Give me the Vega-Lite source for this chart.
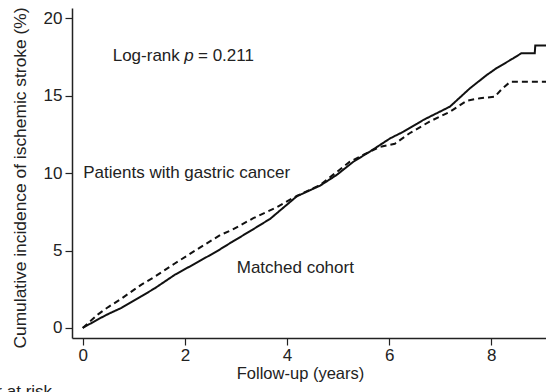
{
  "$schema": "https://vega.github.io/schema/vega-lite/v6.json",
  "width": 474,
  "height": 330,
  "autosize": {"type": "none"},
  "padding": {"left": 72, "top": 8, "right": 0, "bottom": 54},
  "background": "white",
  "config": {
    "view": {"stroke": null},
    "font": "Liberation Sans",
    "axis": {
      "grid": false,
      "domainColor": "#222222",
      "domainWidth": 1.5,
      "tickColor": "#222222",
      "tickWidth": 1.2,
      "tickSize": 7,
      "labelColor": "#222222",
      "labelFont": "Liberation Sans",
      "labelFontSize": 17,
      "titleColor": "#222222",
      "titleFont": "Liberation Sans",
      "titleFontWeight": "normal"
    }
  },
  "datasets": {
    "curves": [
      {"group": "Matched cohort", "t": 0, "inc": 0},
      {"group": "Matched cohort", "t": 0.3, "inc": 0.56},
      {"group": "Matched cohort", "t": 0.5, "inc": 0.9},
      {"group": "Matched cohort", "t": 0.76, "inc": 1.3},
      {"group": "Matched cohort", "t": 1.15, "inc": 2.05},
      {"group": "Matched cohort", "t": 1.41, "inc": 2.56},
      {"group": "Matched cohort", "t": 1.81, "inc": 3.45},
      {"group": "Matched cohort", "t": 2.25, "inc": 4.25},
      {"group": "Matched cohort", "t": 2.65, "inc": 5.0},
      {"group": "Matched cohort", "t": 2.92, "inc": 5.55},
      {"group": "Matched cohort", "t": 3.3, "inc": 6.3},
      {"group": "Matched cohort", "t": 3.67, "inc": 7.05},
      {"group": "Matched cohort", "t": 4.19, "inc": 8.5},
      {"group": "Matched cohort", "t": 4.65, "inc": 9.2},
      {"group": "Matched cohort", "t": 4.97, "inc": 9.88},
      {"group": "Matched cohort", "t": 5.3, "inc": 10.74},
      {"group": "Matched cohort", "t": 5.62, "inc": 11.39},
      {"group": "Matched cohort", "t": 6.02, "inc": 12.25},
      {"group": "Matched cohort", "t": 6.28, "inc": 12.68},
      {"group": "Matched cohort", "t": 6.67, "inc": 13.44},
      {"group": "Matched cohort", "t": 7.19, "inc": 14.3},
      {"group": "Matched cohort", "t": 7.58, "inc": 15.48},
      {"group": "Matched cohort", "t": 7.91, "inc": 16.34},
      {"group": "Matched cohort", "t": 8.1, "inc": 16.78},
      {"group": "Matched cohort", "t": 8.43, "inc": 17.42},
      {"group": "Matched cohort", "t": 8.59, "inc": 17.75},
      {"group": "Matched cohort", "t": 8.85, "inc": 17.75},
      {"group": "Matched cohort", "t": 8.86, "inc": 18.24},
      {"group": "Matched cohort", "t": 9.07, "inc": 18.24},
      {"group": "Patients with gastric cancer", "t": 0, "inc": 0},
      {"group": "Patients with gastric cancer", "t": 0.3, "inc": 0.88},
      {"group": "Patients with gastric cancer", "t": 0.5, "inc": 1.35},
      {"group": "Patients with gastric cancer", "t": 0.76, "inc": 1.9},
      {"group": "Patients with gastric cancer", "t": 1.15, "inc": 2.8},
      {"group": "Patients with gastric cancer", "t": 1.41, "inc": 3.31},
      {"group": "Patients with gastric cancer", "t": 1.81, "inc": 4.18},
      {"group": "Patients with gastric cancer", "t": 2.25, "inc": 5.1},
      {"group": "Patients with gastric cancer", "t": 2.69, "inc": 6.0},
      {"group": "Patients with gastric cancer", "t": 2.92, "inc": 6.33},
      {"group": "Patients with gastric cancer", "t": 3.34, "inc": 7.09},
      {"group": "Patients with gastric cancer", "t": 3.8, "inc": 7.8},
      {"group": "Patients with gastric cancer", "t": 4.19, "inc": 8.53},
      {"group": "Patients with gastric cancer", "t": 4.65, "inc": 9.24},
      {"group": "Patients with gastric cancer", "t": 5.23, "inc": 10.74},
      {"group": "Patients with gastric cancer", "t": 5.5, "inc": 11.2},
      {"group": "Patients with gastric cancer", "t": 5.82, "inc": 11.7},
      {"group": "Patients with gastric cancer", "t": 6.11, "inc": 11.9},
      {"group": "Patients with gastric cancer", "t": 6.4, "inc": 12.58},
      {"group": "Patients with gastric cancer", "t": 6.79, "inc": 13.33},
      {"group": "Patients with gastric cancer", "t": 7.19, "inc": 13.97},
      {"group": "Patients with gastric cancer", "t": 7.52, "inc": 14.68},
      {"group": "Patients with gastric cancer", "t": 7.78, "inc": 14.84},
      {"group": "Patients with gastric cancer", "t": 8.07, "inc": 14.94},
      {"group": "Patients with gastric cancer", "t": 8.2, "inc": 15.42},
      {"group": "Patients with gastric cancer", "t": 8.37, "inc": 15.9},
      {"group": "Patients with gastric cancer", "t": 9.07, "inc": 15.9}
    ],
    "labels": [
      {"t": 0.01, "inc": 10.0, "label": "Patients with gastric cancer"},
      {"t": 3.015, "inc": 3.88, "label": "Matched cohort"},
      {"t": 0.587, "inc": 17.57, "label": "Log-rank"},
      {"t": 2.257, "inc": 17.57, "label": "= 0.211"}
    ],
    "italic": [
      {"t": 1.99, "inc": 17.57, "label": "p"}
    ],
    "risk": [
      {"t": -0.6, "inc": -4.45, "label": "Number at risk"}
    ]
  },
  "layer": [
    {
      "data": {"name": "curves"},
      "mark": {"type": "line", "color": "#111111", "strokeWidth": 2},
      "encoding": {
        "x": {
          "field": "t", "type": "quantitative",
          "scale": {"domain": [-0.21, 9.07], "nice": false, "zero": false},
          "axis": {
            "values": [0, 2, 4, 6, 8],
            "title": "Follow-up (years)",
            "titleFontSize": 16.5,
            "titleX": 228,
            "titleY": 40,
            "titleAlign": "center",
            "titleBaseline": "alphabetic",
            "titleAnchor": null,
            "labelPadding": 2,
            "labelFlush": false
          }
        },
        "y": {
          "field": "inc", "type": "quantitative",
          "scale": {"domain": [-0.65, 20.67], "nice": false, "zero": false},
          "axis": {
            "values": [0, 5, 10, 15, 20],
            "title": "Cumulative incidence of ischemic stroke (%)",
            "titleFontSize": 17.4,
            "titleX": -52,
            "titleY": 169.5,
            "titleAngle": -90,
            "titleAlign": "center",
            "titleBaseline": "middle",
            "titleAnchor": null,
            "labelPadding": 3
          }
        },
        "detail": {"field": "group"},
        "strokeDash": {
          "field": "group", "type": "nominal",
          "scale": {"domain": ["Matched cohort", "Patients with gastric cancer"], "range": [[1, 0], [6, 4]]},
          "legend": null
        }
      }
    },
    {
      "data": {"name": "labels"},
      "mark": {"type": "text", "align": "left", "baseline": "middle", "fontSize": 17, "color": "#222222", "font": "Liberation Sans"},
      "encoding": {
        "x": {"field": "t", "type": "quantitative"},
        "y": {"field": "inc", "type": "quantitative"},
        "text": {"field": "label"}
      }
    },
    {
      "data": {"name": "italic"},
      "mark": {"type": "text", "align": "left", "baseline": "middle", "fontSize": 17, "fontStyle": "italic", "color": "#222222", "font": "Liberation Sans"},
      "encoding": {
        "x": {"field": "t", "type": "quantitative"},
        "y": {"field": "inc", "type": "quantitative"},
        "text": {"field": "label"}
      }
    },
    {
      "data": {"name": "risk"},
      "mark": {"type": "text", "align": "right", "baseline": "alphabetic", "fontSize": 17, "color": "#222222", "font": "Liberation Sans"},
      "encoding": {
        "x": {"field": "t", "type": "quantitative"},
        "y": {"field": "inc", "type": "quantitative"},
        "text": {"field": "label"}
      }
    }
  ]
}
